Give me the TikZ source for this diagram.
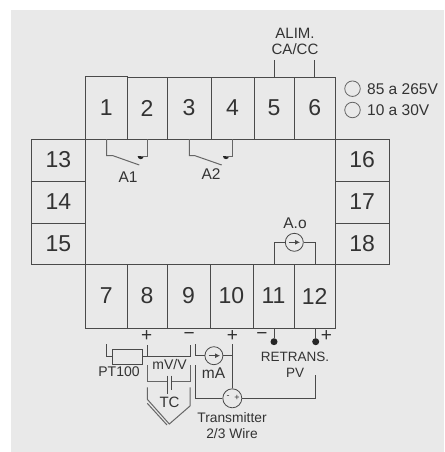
\documentclass[tikz,border=0pt]{standalone}
\usepackage{fontspec}
\setmainfont{Liberation Sans}
\usetikzlibrary{shapes.geometric, arrows.meta}
\definecolor{panelgrey}{HTML}{E9E9E9}
\definecolor{linegrey}{HTML}{4A4A4A}
\definecolor{relaygrey}{HTML}{666666}
\definecolor{textgrey}{HTML}{333333}
\tikzset{
    cell/.style={rectangle, draw=linegrey, line width=0.9pt, inner sep=0pt, text=textgrey, font=\fontsize{23}{23}\selectfont},
    wire/.style={draw=linegrey, line width=0.8pt},
    relay/.style={draw=relaygrey, line width=1pt},
    note/.style={inner sep=0pt, text=textgrey, font=\fontsize{13.5}{16}\selectfont, align=center},
    bignote/.style={note, font=\fontsize{15.5}{16}\selectfont},
    sign/.style={inner sep=0pt, text=textgrey, font=\fontsize{19}{19}\selectfont},
    source/.style={circle, draw=linegrey, line width=0.8pt, fill=panelgrey, inner sep=0pt, minimum size=18pt},
    current/.style={wire, -{Latex[length=5pt, width=5pt]}},
    option/.style={circle, draw=relaygrey, line width=0.8pt, inner sep=0pt, minimum size=15.5pt},
    dotpin/.style={circle, fill=black!85, inner sep=0pt, minimum size=7pt},
    contact/.style={semicircle, shape border rotate=180, fill=black!85, inner sep=0pt, minimum size=3pt, anchor=north}
}
\begin{document}
\begin{tikzpicture}[x=1pt, y=-1pt]
    \useasboundingbox (0, 0) rectangle (444, 452);
    \fill[panelgrey] (11, 10) rectangle (444, 452);

    \node[cell, minimum width=41.5pt, minimum height=63pt] (1) at (106.3, 107.5) {1};
    \node[cell, minimum width=40pt, minimum height=62pt] (2) at (147, 108) {2};
    \node[cell, minimum width=44pt, minimum height=62pt] (3) at (189, 108) {3};
    \node[cell, minimum width=43pt, minimum height=62pt] (4) at (232.5, 108) {4};
    \node[cell, minimum width=40pt, minimum height=62pt] (5) at (274, 108) {5};
    \node[cell, minimum width=41.5pt, minimum height=62pt] (6) at (314.7, 108) {6};

    \node[cell, minimum width=54pt, minimum height=42pt] (13) at (58.5, 160) {13};
    \node[cell, minimum width=54pt, minimum height=42pt] (14) at (58.5, 202) {14};
    \node[cell, minimum width=54pt, minimum height=41pt] (15) at (58.5, 243.5) {15};
    \node[cell, minimum width=53.5pt, minimum height=42pt] (16) at (362.2, 160) {16};
    \node[cell, minimum width=53.5pt, minimum height=42pt] (17) at (362.2, 202) {17};
    \node[cell, minimum width=53.5pt, minimum height=41pt] (18) at (362.2, 243.5) {18};

    \node[cell, minimum width=41.5pt, minimum height=64pt] (7) at (106.3, 296) {7};
    \node[cell, minimum width=40pt, minimum height=64pt] (8) at (147, 296) {8};
    \node[cell, minimum width=43pt, minimum height=64pt] (9) at (188.5, 296) {9};
    \node[cell, minimum width=43pt, minimum height=64pt] (10) at (231.5, 296) {10};
    \node[cell, minimum width=41pt, minimum height=64pt] (11) at (273.5, 296) {11};
    \node[cell, minimum width=41.5pt, minimum height=64pt] (12) at (314.7, 296) {12};

    % supply
    \node[note, font=\fontsize{15}{16}\selectfont] (alim) at (295, 41) {ALIM.\\CA/CC};
    \draw[wire] (5.north) -- ++(0, -17);
    \draw[wire] (6.north) -- ++(0, -17);
    \node[option] (acdc) at (352.5, 88.7) {};
    \node[option] (dcdc) at (352.5, 110) {};
    \node[bignote, anchor=west] (acdctext) at (367, 88.7) {85 a 265V};
    \node[bignote, anchor=west] (dcdctext) at (367, 110) {10 a 30V};

    % relays
    \coordinate (a1com) at (106.7, 139);
    \coordinate (a1arm) at (139.3, 165);
    \coordinate (a1no) at (147.7, 139);
    \coordinate (a1end) at (140.7, 156);
    \node[contact] (a1pin) at (a1end) {};
    \draw[relay] (a1com) -- (106.7, 155.7) -- (113, 155.7) -- (a1arm);
    \draw[relay] (a1no) |- (a1end);
    \node[bignote] (a1) at (128, 177) {A1};
    \coordinate (a2com) at (189.3, 139);
    \coordinate (a2arm) at (221.7, 165);
    \coordinate (a2no) at (232.7, 139);
    \coordinate (a2end) at (226, 156);
    \node[contact] (a2pin) at (a2end) {};
    \draw[relay] (a2com) -- (189.3, 155.7) -- (195, 155.7) -- (a2arm);
    \draw[relay] (a2no) |- (a2end);
    \node[bignote] (a2) at (211, 174) {A2};

    % analog output
    \node[bignote] (ao) at (295, 223) {A.o};
    \node[source] (aosrc) at (294.3, 242.3) {};
    \draw[wire] (274, 264) |- (aosrc.west);
    \draw[wire] (315, 264) |- (aosrc.east);
    \draw[current] (288.5, 242.3) -- (300, 242.3);

    % retransmission
    \node[dotpin] (ret1) at (274, 341.7) {};
    \node[dotpin] (ret2) at (315.7, 341.7) {};
    \draw[wire] (274, 328) -- (ret1);
    \draw[wire] (315.7, 328) -- (ret2);
    \node[sign] (retminus) at (262, 335.7) {−};
    \node[sign] (retplus) at (326.5, 335.7) {+};
    \node[note] (retrans) at (295, 365) {RETRANS.\\PV};

    % sensors
    \node[sign] (plus8) at (146.7, 335.7) {+};
    \node[sign] (minus9) at (189.2, 335.7) {−};
    \node[sign] (plus10) at (232.3, 335.7) {+};
    \node[draw=linegrey, line width=0.8pt, minimum width=30pt, minimum height=15pt, inner sep=0pt] (pt) at (127, 356.7) {};
    \draw[wire] (pt.west) -- (106.7, 356.7) -- (106.7, 344);
    \draw[wire] (pt.east) -- (147.3, 356.7) -- (147.3, 345);
    \draw[wire] (147.3, 356) -- (190, 356) -- (190, 345);
    \node[note, font=\fontsize{14}{16}\selectfont] (pt100) at (119, 372) {PT100};
    \node[note, font=\fontsize{14}{16}\selectfont] (mvv) at (169.5, 364) {mV/V};

    \coordinate (capl) at (167.3, 381.7);
    \coordinate (capr) at (171.7, 381.7);
    \draw[relay] (147.3, 365) -- (147.3, 381.7) -- (capl);
    \draw[relay] (190, 365) -- (190, 381.7) -- (capr);
    \draw[wire] (167.3, 375.7) -- (167.3, 394);
    \draw[wire] (171.7, 375.7) -- (171.7, 390);
    \node[note, font=\fontsize{15}{16}\selectfont] (tc) at (169.5, 402) {TC};
    \draw[relay] (147.3, 387.3) -- (147.3, 399.3) -- (169.3, 424) -- (190, 406) -- (190, 387.3);
    \draw[relay] (147.3, 403.3) -- (167, 425);

    \node[source] (masrc) at (213.9, 355.7) {};
    \draw[current] (208.5, 355.7) -- (220, 355.7);
    \draw[wire] (masrc.west) -- (195, 355.7) -- (195, 344);
    \draw[wire] (masrc.east) -- (232.3, 355.7) -- (232.3, 344);
    \node[bignote] (ma) at (213.5, 373) {mA};

    \node[source, minimum size=19pt] (tx) at (232.3, 398.3) {};
    \node[inner sep=0pt, text=textgrey, font=\fontsize{9}{9}\selectfont] (txm) at (228, 397.5) {-};
    \node[inner sep=0pt, text=textgrey, font=\fontsize{9}{9}\selectfont] (txp) at (237, 398) {+};
    \draw[wire] (232.3, 355.7) -- (tx.north);
    \draw[wire] (195, 365) -- (195, 398.3) -- (tx.west);
    \draw[wire] (tx.east) -- (315.7, 398.3) -- (315.7, 375);
    \node[note, font=\fontsize{13.8}{16}\selectfont] (txtext) at (232, 426) {Transmitter\\2/3 Wire};
\end{tikzpicture}
\end{document}
